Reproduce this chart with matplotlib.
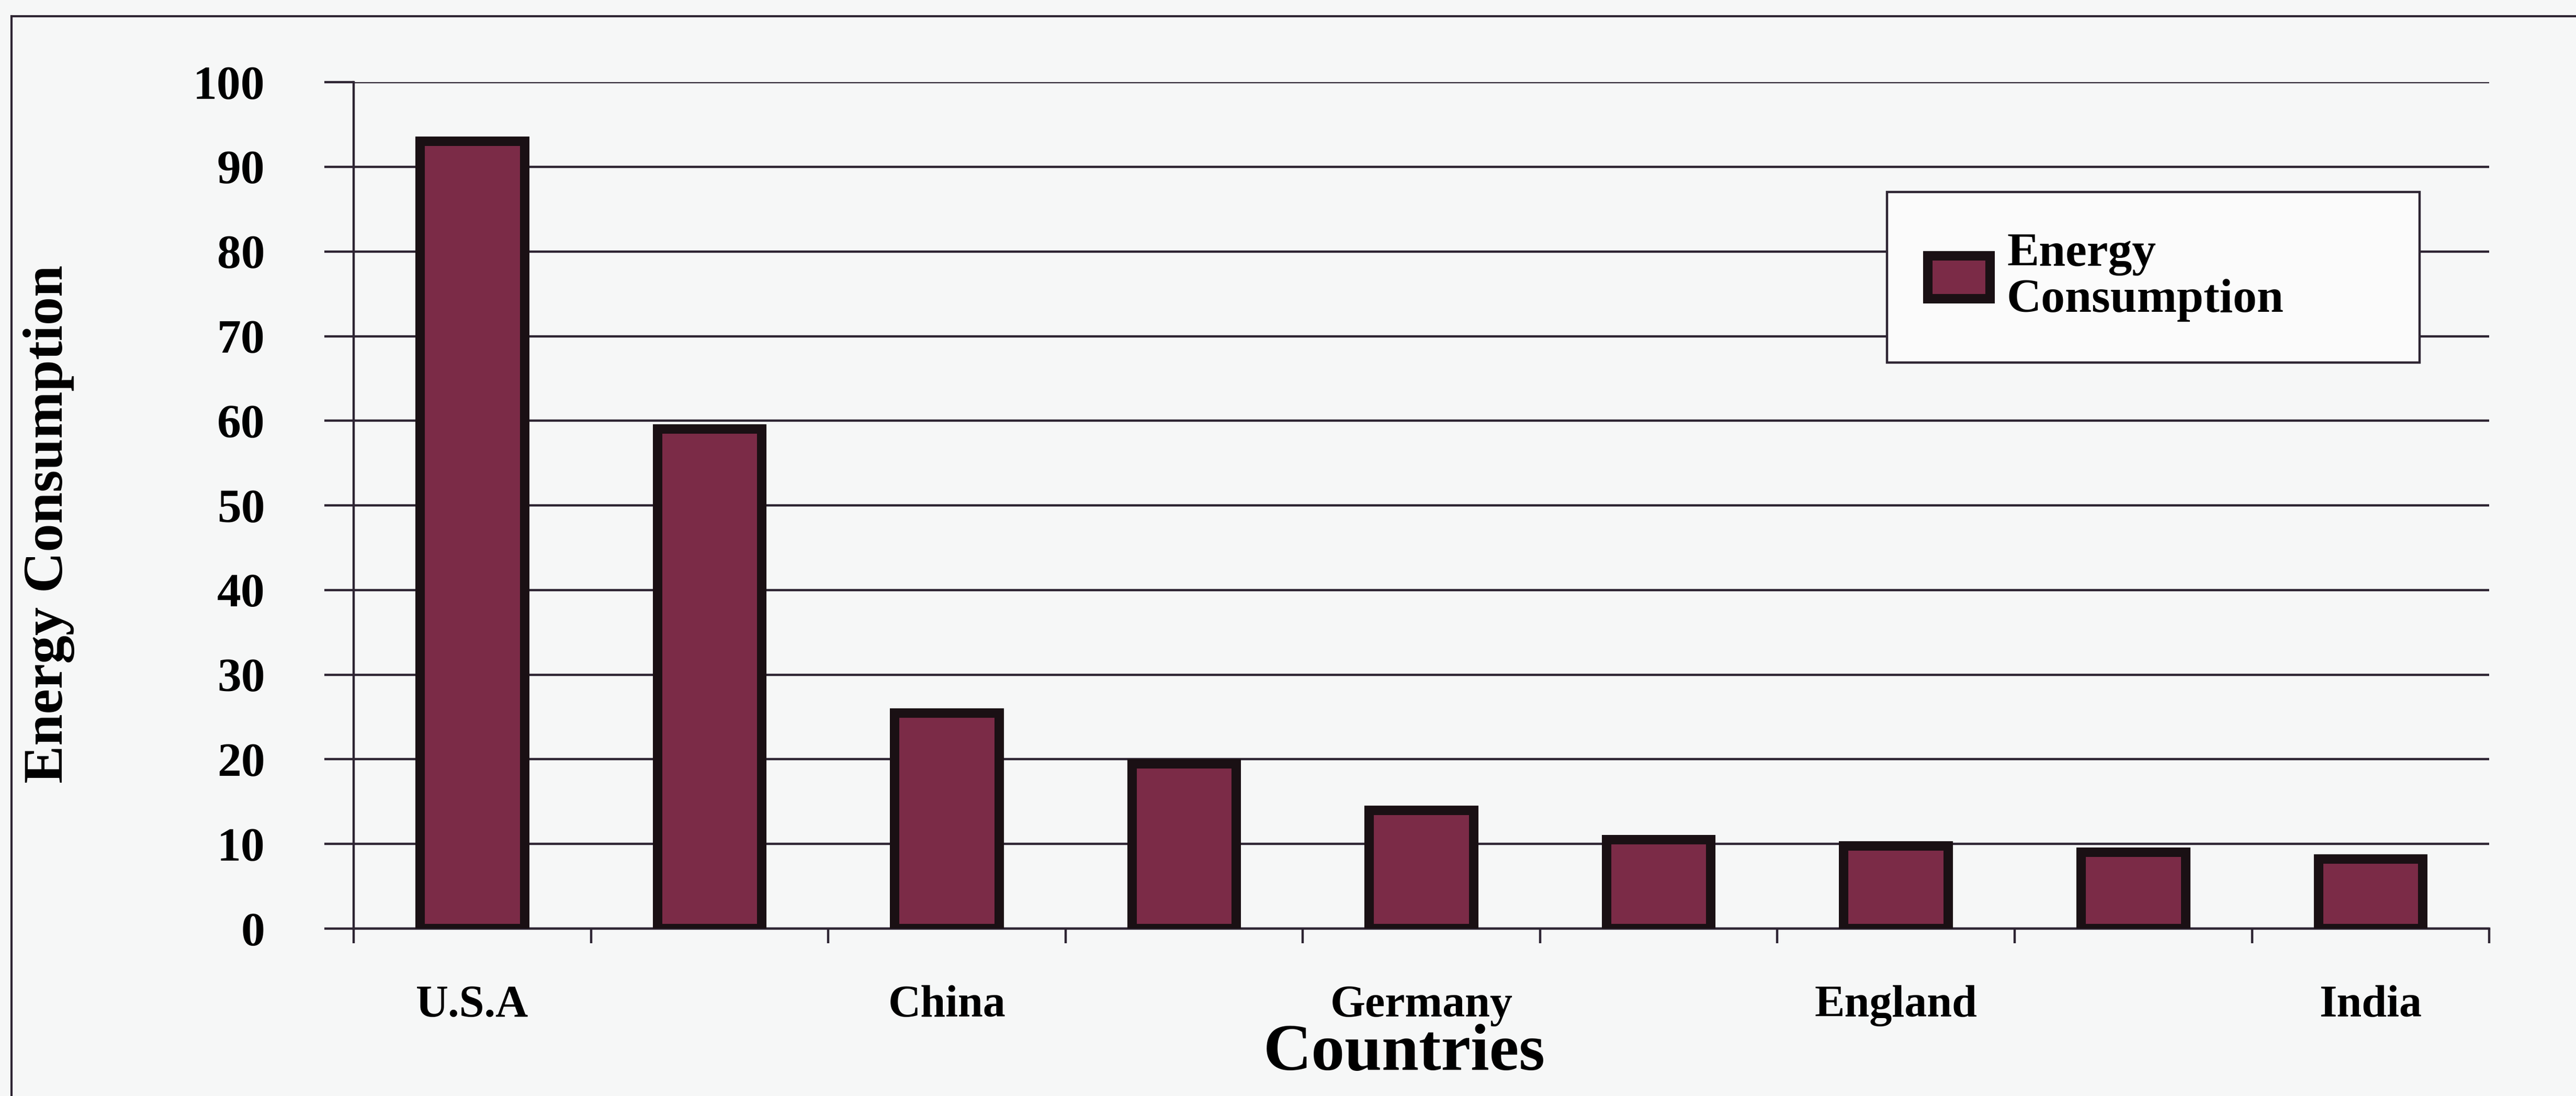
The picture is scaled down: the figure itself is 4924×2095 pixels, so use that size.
import matplotlib.pyplot as plt
import numpy as np
from matplotlib.lines import Line2D

# data
countries = ["U.S.A", "", "China", "", "Germany", "", "England", "", "India"]
consumption = [93, 59, 25.5, 19.5, 14, 10.5, 9.8, 9, 8.2]
y_ticks = [0, 10, 20, 30, 40, 50, 60, 70, 80, 90, 100]

bar_color = "#7b2b47"
ink = "#2e2533"
bg = "#f6f7f7"

plt.rcParams['font.family'] = ['Liberation Serif', 'DejaVu Serif']
plt.rcParams['font.weight'] = 'bold'

fig = plt.figure(figsize=(49.24, 20.95), dpi=100, facecolor=bg)
ax = fig.add_axes([0.1373, 0.1527, 0.829, 0.7723])
ax.set_facecolor(bg)

x = np.arange(len(consumption))
ax.bar(x, consumption, width=0.44, color=bar_color, edgecolor="#1a1014",
       linewidth=13, label="Energy\nConsumption", zorder=3)

ax.set_xlim(-0.5, len(consumption) - 0.5)
ax.set_ylim(0, 100)

# horizontal grid like the old spreadsheet chart
ax.set_yticks(y_ticks)
ax.set_yticklabels([str(v) for v in y_ticks], fontsize=66, fontweight='bold')
ax.yaxis.grid(True, color=ink, linewidth=3.2, zorder=1)
ax.tick_params(axis='y', length=40, width=3.2, color=ink, pad=82)

# labels at centres, tick marks at category borders
ax.set_xticks(x)
ax.set_xticklabels(countries, fontsize=62, fontweight='bold')
ax.set_xticks(np.arange(len(consumption) + 1) - 0.5, minor=True)
ax.tick_params(axis='x', which='major', length=0, pad=78)
ax.tick_params(axis='x', which='minor', length=20, width=3.2, color=ink)

for s in ['top', 'right']:
    ax.spines[s].set_visible(False)
ax.spines['left'].set_color(ink)
ax.spines['left'].set_linewidth(3.2)
ax.spines['bottom'].set_color(ink)
ax.spines['bottom'].set_linewidth(3.2)

ax.set_ylabel("Energy Consumption", fontsize=78, fontweight='bold')
ax.yaxis.set_label_coords(-0.1306, 0.478)
ax.set_xlabel("Countries", fontsize=92, fontweight='bold', va='center')
ax.xaxis.set_label_coords(0.492, -0.148)

leg = ax.legend(loc='upper left', bbox_to_anchor=(0.7325, 0.0, 0.2067, 0.8248),
                bbox_transform=fig.transFigure, mode='expand', fontsize=66,
                fancybox=False, framealpha=1, edgecolor=ink, borderaxespad=0,
                handlelength=1.3, handleheight=1.0, handletextpad=0.35,
                borderpad=0.85, labelspacing=0.2)
leg.get_frame().set_linewidth(3.2)
leg.get_frame().set_facecolor("#fbfbfb")
for t in leg.get_texts():
    t.set_linespacing(1.1)

# outer chart border (left and top edges visible in the scan)
fig.add_artist(Line2D([22 / 4924, 22 / 4924], [0, 1 - 31 / 2095],
                      transform=fig.transFigure, color=ink, linewidth=3))
fig.add_artist(Line2D([22 / 4924, 1], [1 - 31 / 2095, 1 - 31 / 2095],
                      transform=fig.transFigure, color=ink, linewidth=3))

fig.savefig("out.png", dpi=100, facecolor=bg)
